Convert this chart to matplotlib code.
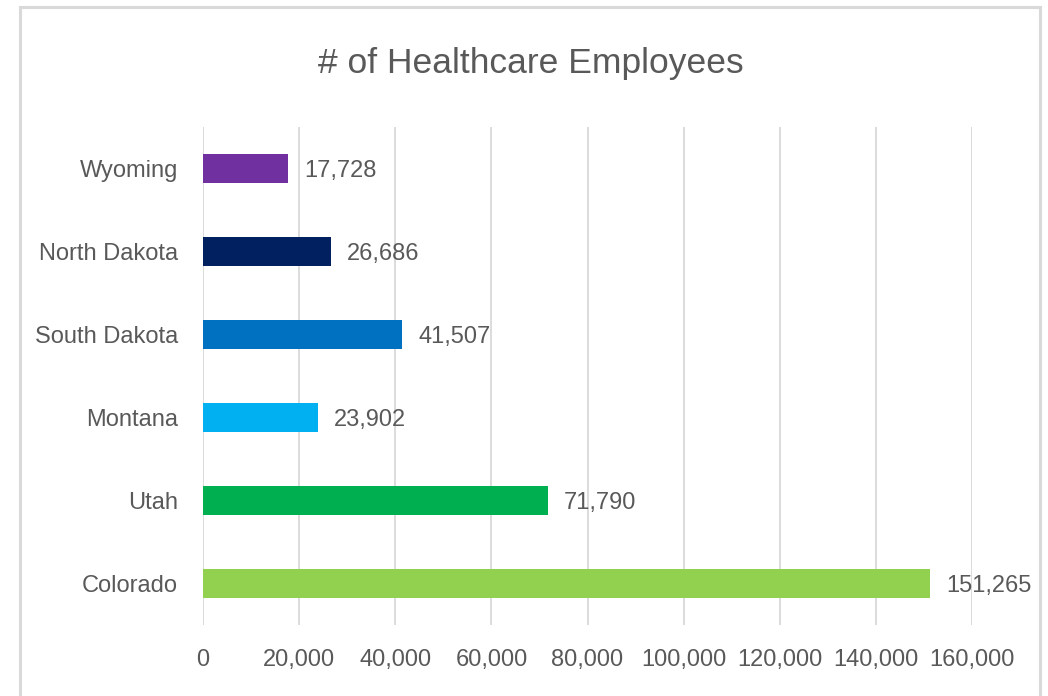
import matplotlib.pyplot as plt
from matplotlib.patches import Rectangle
from matplotlib.ticker import FuncFormatter

# Healthcare employment by state (bottom to top)
states = ['Colorado', 'Utah', 'Montana', 'South Dakota', 'North Dakota', 'Wyoming']
employees = [151265, 71790, 23902, 41507, 26686, 17728]
bar_colors = ['#92D050', '#00B050', '#00B0F0', '#0070C0', '#002060', '#7030A0']
x_ticks = [0, 20000, 40000, 60000, 80000, 100000, 120000, 140000, 160000]

text_color = '#595959'
grid_color = '#D9D9D9'

plt.rcParams['font.family'] = ['Liberation Sans', 'DejaVu Sans']

fig = plt.figure(figsize=(10.48, 6.96), dpi=100)
fig.patch.set_facecolor('white')

# light frame around the chart area
fig.patches.append(Rectangle((20 / 1048, -0.05), 1020 / 1048, 689 / 696 + 0.05,
                             transform=fig.transFigure, fill=False,
                             ec=grid_color, lw=2.2))

ax = fig.add_axes([203 / 1048, 71 / 696, 769 / 1048, 498 / 696])

ypos = list(range(len(states)))
ax.barh(ypos, employees, height=0.36, color=bar_colors, zorder=2)

for y, v in zip(ypos, employees):
    ax.annotate(f'{v:,}', (v, y), xytext=(11.5, -1.5), textcoords='offset points',
                va='center', ha='left', fontsize=17, color=text_color,
                annotation_clip=False, zorder=3)

ax.set_xlim(0, 160000)
ax.set_ylim(-0.5, len(states) - 0.5)
ax.set_xticks(x_ticks)
ax.xaxis.set_major_formatter(FuncFormatter(lambda v, p: f'{int(v):,}'))
ax.set_yticks(ypos)
ax.set_yticklabels(states)

ax.grid(axis='x', color=grid_color, lw=1.3, zorder=0)
ax.set_axisbelow(True)
for s in ax.spines.values():
    s.set_visible(False)
ax.tick_params(axis='both', length=0, labelsize=17, labelcolor=text_color)
ax.tick_params(axis='y', pad=18)
ax.tick_params(axis='x', pad=17)

fig.text(531 / 1048, 1 - 63 / 696, '# of Healthcare Employees', ha='center',
         va='center', fontsize=25.5, color=text_color)

fig.savefig('out.png', dpi=100, facecolor='white')
